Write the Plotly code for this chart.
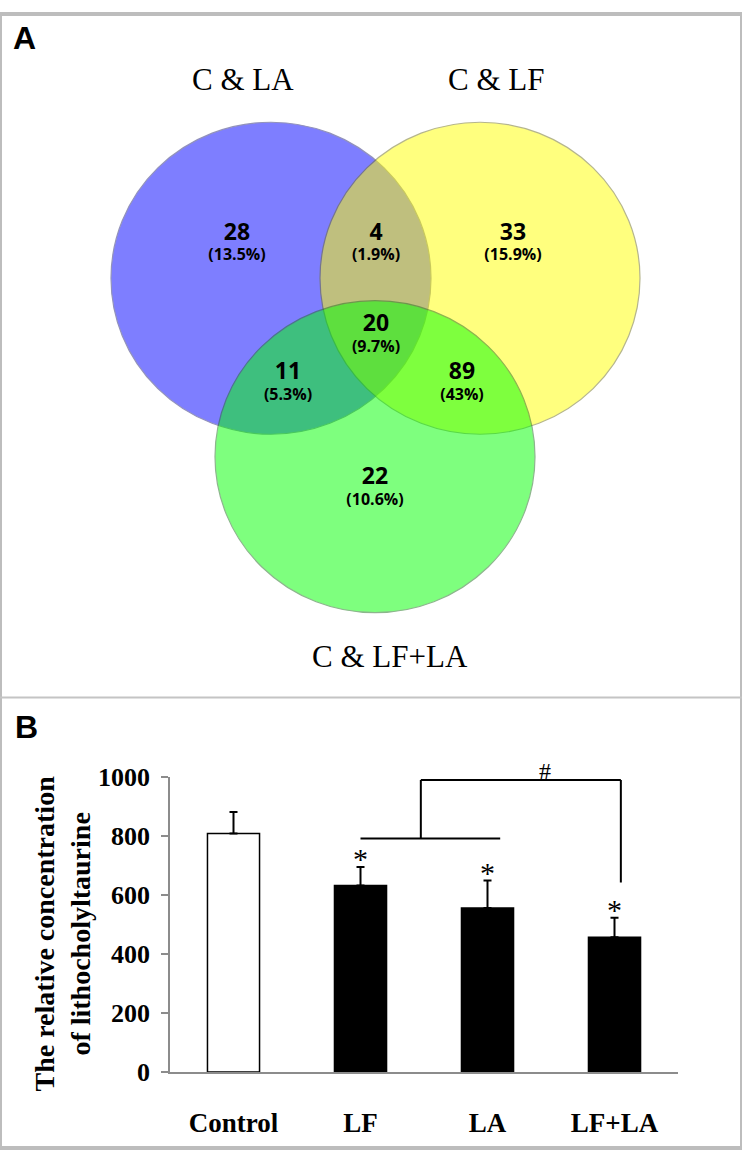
import plotly.graph_objects as go

W, H = 742, 1163

# ---------------- data ----------------
venn_sets = ["C & LA", "C & LF", "C & LF+LA"]
venn_counts = ["28", "4", "33", "11", "20", "89", "22"]
venn_pcts = ["(13.5%)", "(1.9%)", "(15.9%)", "(5.3%)", "(9.7%)", "(43%)", "(10.6%)"]

categories = ["Control", "LF", "LA", "LF+LA"]
values = [807, 631, 555, 456]
errors = [73, 63, 93, 66]
sig_star = ["", "*", "*", "*"]
y_ticks = [0, 200, 400, 600, 800, 1000]

# ---------------- layout constants (pixels) ----------------
circle_centers = [(271, 271), (480, 271), (375, 454)]
circle_r = 160
circle_fill = ["rgb(0,0,255)", "rgb(255,255,0)", "rgb(0,255,0)"]
circle_line = ["rgb(40,40,120)", "rgb(110,110,30)", "rgb(30,110,30)"]
set_label_pos = [(243, 67), (496, 67), (390, 659)]
region_pos = [(237, 228), (376, 228), (513, 228), (288, 371), (376, 322), (462, 371), (375, 479)]

SERIF = "Liberation Serif, Times New Roman, serif"
SANS = "Open Sans, Noto Sans, DejaVu Sans, sans-serif"


def px(x):
    return x / W


def py(y):
    return 1 - y / H


fig = go.Figure()

# Venn region labels (axis x/y = pixel space): count over percentage
region_text = ["<span style='font-size:23px'>%s</span><br>%s" % (c, p)
               for c, p in zip(venn_counts, venn_pcts)]
fig.add_trace(go.Scatter(
    x=[p[0] for p in region_pos], y=[p[1] + 10 for p in region_pos],
    mode="text", text=region_text, textposition="middle center",
    textfont=dict(family=SANS, size=16, color="black", weight="bold"),
    hoverinfo="skip", xaxis="x", yaxis="y"))

# Bar chart
fig.add_trace(go.Bar(
    x=categories, y=values,
    width=0.41,
    marker=dict(color=["white", "black", "black", "black"],
                line=dict(color="black", width=1.5)),
    error_y=dict(type="data", array=errors, arrayminus=[0] * len(errors),
                 symmetric=False, visible=True, color="black", thickness=2, width=4),
    xaxis="x2", yaxis="y2", hoverinfo="skip"))

shapes = []
# outer border and divider
shapes.append(dict(type="rect", xref="paper", yref="paper", x0=0, y0=0, x1=1, y1=1,
                   line=dict(color="#bdbdbd", width=4), layer="above"))
shapes.append(dict(type="line", xref="paper", yref="paper", x0=0, x1=1, y0=py(701), y1=py(701),
                   line=dict(color="#c4c4c4", width=2)))

for (cx, cy), fc, lc in zip(circle_centers, circle_fill, circle_line):
    shapes.append(dict(type="circle", xref="x", yref="y",
                       x0=cx - circle_r, x1=cx + circle_r, y0=cy - circle_r, y1=cy + circle_r,
                       fillcolor=fc, opacity=0.5, line=dict(color=lc, width=1.2), layer="below"))

# significance bracket (category index / value coordinates)
br = dict(color="black", width=2)
shapes.append(dict(type="line", xref="x2", yref="y2", x0=1.0, x1=2.1, y0=790, y1=790, line=br))
shapes.append(dict(type="line", xref="x2", yref="y2", x0=1.475, x1=1.475, y0=790, y1=988, line=br))
shapes.append(dict(type="line", xref="x2", yref="y2", x0=1.475, x1=3.05, y0=988, y1=988, line=br))
shapes.append(dict(type="line", xref="x2", yref="y2", x0=3.05, x1=3.05, y0=988, y1=641, line=br))

annotations = []
annotations.append(dict(text="<b>A</b>", x=px(11), y=py(25), xref="paper", yref="paper",
                        xanchor="left", yanchor="middle", showarrow=False,
                        font=dict(family="Liberation Sans, Arial, sans-serif", size=32, color="black")))
annotations.append(dict(text="<b>B</b>", x=px(13), y=py(731), xref="paper", yref="paper",
                        xanchor="left", yanchor="middle", showarrow=False,
                        font=dict(family="Liberation Sans, Arial, sans-serif", size=32, color="black")))
for name, (lx, ly) in zip(venn_sets, set_label_pos):
    annotations.append(dict(text=name, x=px(lx), y=py(ly), xref="paper", yref="paper",
                            xanchor="center", yanchor="middle", showarrow=False,
                            font=dict(family=SERIF, size=31, color="black")))

for i, s in enumerate(sig_star):
    if s:
        annotations.append(dict(text=s, x=i, y=values[i] + errors[i], xref="x2", yref="y2",
                                xanchor="center", yanchor="middle", yshift=8, showarrow=False,
                                font=dict(family=SERIF, size=30, color="black")))
annotations.append(dict(text="#", x=px(545), y=py(776), xref="paper", yref="paper",
                        xanchor="center", yanchor="middle", showarrow=False,
                        font=dict(family=SERIF, size=24, color="black")))

annotations.append(dict(text="The relative concentration<br>of lithocholyltaurine",
                        x=px(62), y=py(943), xref="paper", yref="paper",
                        xanchor="center", yanchor="middle", textangle=-90, showarrow=False,
                        font=dict(family=SERIF, size=28, color="black", weight="bold")))

fig.update_layout(
    width=W, height=H,
    margin=dict(l=0, r=0, t=0, b=0),
    paper_bgcolor="white", plot_bgcolor="rgba(0,0,0,0)",
    showlegend=False,
    shapes=shapes, annotations=annotations,
    xaxis=dict(domain=[0, 1], range=[0, W], visible=False, fixedrange=True),
    yaxis=dict(domain=[0, 1], range=[H, 0], visible=False, fixedrange=True),
    xaxis2=dict(domain=[px(170), px(678)], anchor="y2", type="category",
                range=[-0.5, 3.5], showline=True, linecolor="#8c8c8c", linewidth=1.5,
                ticks="", showgrid=False, zeroline=False, ticklabelstandoff=26,
                tickfont=dict(family=SERIF, size=27, color="black", weight="bold")),
    yaxis2=dict(domain=[py(1085), py(782)], anchor="x2", range=[0, 1000],
                tickvals=y_ticks, ticks="outside", ticklen=7, tickcolor="#8c8c8c", tickwidth=1.5,
                showline=True, linecolor="#8c8c8c", linewidth=1.5, showgrid=False, zeroline=False,
                ticklabelstandoff=6,
                tickfont=dict(family=SERIF, size=26, color="black", weight="bold")),
)

fig.write_html("out.html", config={"displayModeBar": False},
               post_script="document.body.style.margin='0';")
